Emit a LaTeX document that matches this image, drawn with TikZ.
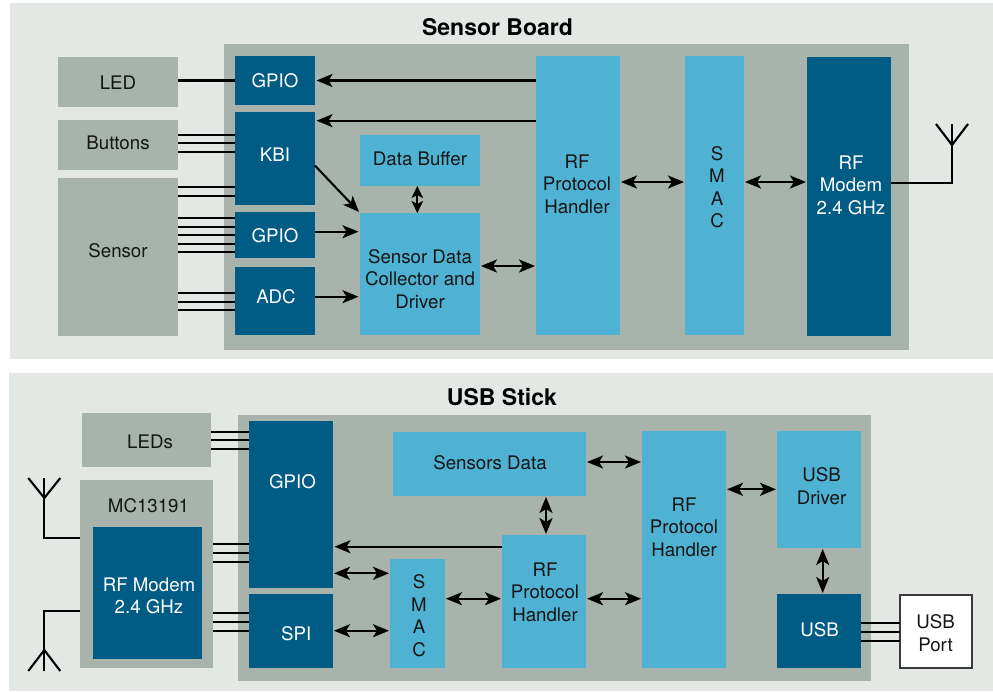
\documentclass[tikz,border=0pt]{standalone}
\usepackage{fontspec}
\setmainfont{TeX Gyre Heros}
\usetikzlibrary{arrows.meta,calc}
\definecolor{panelbg}{HTML}{E3E8E5}
\definecolor{graybox}{HTML}{A7B3AB}
\definecolor{lightblue}{HTML}{50B2D3}
\definecolor{darkblue}{HTML}{005C84}
\definecolor{inkc}{HTML}{151515}
\definecolor{portline}{HTML}{3A3A3A}
\newcommand\blk[6]{\node[#6, minimum width={(#4-#2)*1pt}, minimum height={(#5-#3)*1pt}] (#1) at ({(#2+#4)/2},{(#3+#5)/2}) {};}
\tikzset{
  box/.style={inner sep=0pt, outer sep=0pt, draw=none},
  pbox/.style={box, fill=panelbg},
  gbox/.style={box, fill=graybox},
  lbox/.style={box, fill=lightblue},
  dbox/.style={box, fill=darkblue},
  portbox/.style={box, fill=white, draw=portline, line width=1.3pt},
  txt/.style={font=\fontsize{18.7}{22.5}\selectfont, text=inkc, align=center, inner sep=0pt},
  wtxt/.style={txt, text=white},
  ttl/.style={font=\bfseries\fontsize{23}{27}\selectfont, text=black, inner sep=0pt},
  wire/.style={line width=2.1pt, draw=black},
  tipA/.tip={Stealth[length=16pt,width=13pt,inset=4pt]},
  tipB/.tip={Stealth[length=12pt,width=11.5pt,inset=3pt]},
  arr/.style={wire, -tipA, shorten >=1.5pt},
  darr/.style={wire, tipA-tipA, shorten >=1pt, shorten <=1pt},
  sdarr/.style={wire, tipB-tipB},
}
\begin{document}
\begin{tikzpicture}[x=1pt,y=-1pt]
\useasboundingbox (0,0) rectangle (993,691);
\fill[white] (0,0) rectangle (993,691);
% ---------------- Sensor Board ----------------
\blk{panelA}{10}{3}{993}{359}{pbox}
\blk{coreA}{224}{44}{909}{350}{gbox}
\node[ttl] (titleA) at (497.5,26.7) {Sensor Board};
\blk{led}{58}{57}{178}{107}{gbox}
\blk{buttons}{58}{120}{178}{170}{gbox}
\blk{sensor}{58}{178}{178}{336}{gbox}
\blk{gpioA}{235}{56}{315}{105}{dbox}
\blk{kbi}{235}{112}{315}{205}{dbox}
\blk{gpioB}{235}{212}{315}{258}{dbox}
\blk{adc}{235}{267}{315}{335}{dbox}
\blk{dbuf}{360}{135}{480}{186}{lbox}
\blk{sdc}{360}{213}{480}{335}{lbox}
\blk{rfphA}{536}{56}{620}{335}{lbox}
\blk{smacA}{685}{56}{744}{335}{lbox}
\blk{modemA}{807}{57}{891}{336}{dbox}
\node[txt] (tled) at (118,82.7) {LED};
\node[txt] (tbut) at (118,143.3) {Buttons};
\node[txt] (tsen) at (118,251) {Sensor};
\node[wtxt] (tgpa) at (275,81) {GPIO};
\node[wtxt] (tkbi) at (275,155) {KBI};
\node[wtxt] (tgpb) at (275,235.7) {GPIO};
\node[wtxt] (tadc) at (276,297) {ADC};
\node[txt] (tdb) at (420,159) {Data Buffer};
\node[txt] (tsdc) at (420,279) {Sensor Data\\Collector and\\Driver};
\node[txt] (trfa) at (577,184) {RF\\Protocol\\Handler};
\node[txt] (tsma) at (717,187) {S\\M\\A\\C};
\node[wtxt] (tmoa) at (851,185) {RF\\Modem\\2.4 GHz};
% wires
\draw[wire] (led.east |- gpioA.west) -- (gpioA.west);
\foreach \yy in {135,143.3,151.7} \draw[wire] (buttons.east |- 0,\yy) -- (kbi.west |- 0,\yy);
\foreach \yy in {186.7,195.7} \draw[wire] (sensor.east |- 0,\yy) -- (kbi.west |- 0,\yy);
\foreach \yy in {218.3,226.7,235.3,243.7,252} \draw[wire] (sensor.east |- 0,\yy) -- (gpioB.west |- 0,\yy);
\foreach \yy in {293.3,301.7,310.3} \draw[wire] (sensor.east |- 0,\yy) -- (adc.west |- 0,\yy);
% arrows
\draw[arr] (rfphA.west |- gpioA.east) -- (gpioA.east);
\coordinate (kbiIn) at ($(kbi.north east)+(0,8.7)$);
\draw[arr] (rfphA.west |- kbiIn) -- (kbiIn);
\draw[arr] ($(kbi.north east)!0.577!(kbi.south east)$) -- (sdc.north west);
\coordinate (g2) at ($(gpioB.east)+(0,-3.3)$);
\draw[arr] (g2) -- (sdc.west |- g2);
\coordinate (ad) at ($(adc.east)+(0,-4.3)$);
\draw[arr] (ad) -- (sdc.west |- ad);
\coordinate (dbx) at ($(dbuf.south)+(-2.7,0)$);
\draw[sdarr] (dbx) -- (sdc.north -| dbx);
\coordinate (sr) at ($(sdc.east)+(0,-8)$);
\draw[darr] (sr) -- (rfphA.west |- sr);
\coordinate (ps) at ($(rfphA.north east)+(0,126)$);
\draw[darr] (ps) -- (smacA.west |- ps);
\draw[darr] (smacA.east |- ps) -- (modemA.west |- ps);
% antenna
\coordinate (mo) at ($(modemA.north east)+(0,126)$);
\coordinate (antA) at (952,124);
\draw[wire] (mo) -| (antA);
\draw[wire] ($(antA)+(-16,0)$) -- ($(antA)+(0,21)$) -- ($(antA)+(16,0)$);
% ---------------- USB Stick ----------------
\blk{panelB}{9}{373}{993}{691}{pbox}
\blk{coreB}{238}{415}{871}{681}{gbox}
\node[ttl] (titleB) at (502,397) {USB Stick};
\blk{leds}{82}{413}{211}{467}{gbox}
\blk{mc}{80}{480}{213}{668}{gbox}
\blk{modemB}{93}{527}{202}{659}{dbox}
\blk{gpioC}{249}{421}{333}{588}{dbox}
\blk{spi}{249}{594}{333}{668}{dbox}
\blk{sdata}{393}{432}{586}{496}{lbox}
\blk{smacB}{390}{559}{445}{668}{lbox}
\blk{rfphS}{502}{535}{586}{668}{lbox}
\blk{rfphB}{642}{431}{726}{668}{lbox}
\blk{usbdrv}{777}{431}{861}{548}{lbox}
\blk{usb}{777}{594}{861}{668}{dbox}
\blk{port}{900}{595}{972}{668}{portbox}
\node[txt] (tleds) at (150,441.5) {LEDs};
\node[txt] (tmc) at (148.5,505.3) {MC13191};
\node[wtxt] (tmob) at (149,596) {RF Modem\\2.4 GHz};
\node[wtxt] (tgpc) at (292.5,482) {GPIO};
\node[wtxt] (tspi) at (296.3,634) {SPI};
\node[txt] (tsd) at (490,463) {Sensors Data};
\node[txt] (tsmb) at (419,615.5) {S\\M\\A\\C};
\node[txt] (trfs) at (545,592) {RF\\Protocol\\Handler};
\node[txt] (trfb) at (684,527) {RF\\Protocol\\Handler};
\node[txt] (tud) at (821.5,486) {USB\\Driver};
\node[wtxt] (tusb) at (819.5,630) {USB};
\node[txt] (tport) at (935.5,633) {USB\\Port};
% wires
\foreach \yy in {431.7,440.3,449.3} \draw[wire] (leds.east |- 0,\yy) -- (gpioC.west |- 0,\yy);
\foreach \yy in {544,552.7,561.7} \draw[wire] (mc.east |- 0,\yy) -- (gpioC.west |- 0,\yy);
\foreach \yy in {613.3,621.7,630.7} \draw[wire] (mc.east |- 0,\yy) -- (spi.west |- 0,\yy);
\foreach \yy in {623.3,631.7,640.7} \draw[wire] (usb.east |- 0,\yy) -- (port.west |- 0,\yy);
% arrows
\coordinate (sdy) at ($(sdata.east)+(0,-2)$);
\draw[darr] (sdy) -- (rfphB.west |- sdy);
\coordinate (sdx) at ($(sdata.south)+(56.5,0)$);
\draw[darr] (sdx) -- (rfphS.north -| sdx);
\coordinate (rg) at ($(rfphS.north west)+(0,11.7)$);
\draw[arr] (rg) -- (gpioC.east |- rg);
\coordinate (gs) at ($(smacB.north west)+(0,14.3)$);
\draw[darr] (gpioC.east |- gs) -- (gs);
\coordinate (ss) at ($(smacB.north west)+(0,71.7)$);
\draw[darr] (spi.east |- ss) -- (ss);
\coordinate (sr2) at ($(smacB.north east)+(0,39.7)$);
\draw[darr] (sr2) -- (rfphS.west |- sr2);
\draw[darr] (rfphS.east |- sr2) -- (rfphB.west |- sr2);
\coordinate (ru) at ($(usbdrv.north west)+(0,58.3)$);
\draw[darr] (rfphB.east |- ru) -- (ru);
\coordinate (ux) at ($(usbdrv.south)+(3.7,0)$);
\draw[darr] (ux) -- (usb.north -| ux);
% antennas
\coordinate (antB) at (44.3,478);
\coordinate (mcA) at ($(mc.north west)+(0,57.7)$);
\draw[wire] (antB) |- (mcA);
\draw[wire] ($(antB)+(-16,0)$) -- ($(antB)+(0,20)$) -- ($(antB)+(16,0)$);
\coordinate (antC) at (44.3,671);
\coordinate (mcB) at ($(mc.north west)+(0,130.7)$);
\draw[wire] (mcB) -| (antC);
\draw[wire] ($(antC)+(-16,0)$) -- ($(antC)+(0,-21)$) -- ($(antC)+(16,0)$);
\end{tikzpicture}
\end{document}
